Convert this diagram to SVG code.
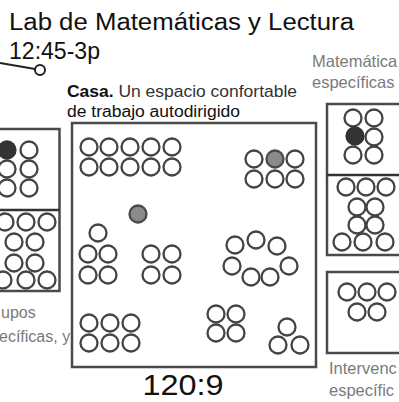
<svg xmlns="http://www.w3.org/2000/svg" width="399" height="402" viewBox="0 0 399 402">
<style>
.box{fill:none;stroke:#4a4a4a;stroke-width:2.5}
.c{fill:#fff;stroke:#444;stroke-width:2.3}
.g{fill:#8a8a8a;stroke:#4a4a4a;stroke-width:2.3}
.d{fill:#333;stroke:#333;stroke-width:2.3}
.t{font-family:"Liberation Sans",Arial,sans-serif;fill:#111}
.s{font-family:"Liberation Sans",Arial,sans-serif;fill:#7a7a7a}
</style>
<rect width="399" height="402" fill="#fff"/>
<g id="title">
<text class="t" x="9" y="30" font-size="23" textLength="345" lengthAdjust="spacingAndGlyphs">Lab de Matemáticas y Lectura</text>
<text class="t" x="9" y="59" font-size="24" textLength="91" lengthAdjust="spacingAndGlyphs">12:45-3p</text>
</g>
<g id="connectors">
<line x1="0" y1="63" x2="35" y2="69" stroke="#222" stroke-width="2"/>
<circle cx="40" cy="70" r="5" fill="#fff" stroke="#222" stroke-width="2"/>
</g>
<g id="casa">
<text class="t" x="67" y="97" font-size="16" textLength="230" lengthAdjust="spacingAndGlyphs"><tspan font-weight="bold">Casa.</tspan> <tspan fill="#333">Un espacio confortable</tspan></text>
<text class="t" x="67" y="117" font-size="16" fill="#333" textLength="173" lengthAdjust="spacingAndGlyphs">de trabajo autodirigido</text>
<rect class="box" x="72" y="123" width="244" height="244"/>
<circle class="c" cx="89" cy="147" r="8.5"/><circle class="c" cx="109" cy="147" r="8.5"/><circle class="c" cx="130" cy="147" r="8.5"/><circle class="c" cx="151" cy="147" r="8.5"/><circle class="c" cx="172" cy="147" r="8.5"/>
<circle class="c" cx="89" cy="167" r="8.5"/><circle class="c" cx="109" cy="167" r="8.5"/><circle class="c" cx="130" cy="167" r="8.5"/><circle class="c" cx="151" cy="167" r="8.5"/><circle class="c" cx="172" cy="167" r="8.5"/>
<circle class="c" cx="254" cy="159" r="8.5"/><circle class="g" cx="275" cy="159" r="8.5"/><circle class="c" cx="295" cy="159" r="8.5"/>
<circle class="c" cx="254" cy="179" r="8.5"/><circle class="c" cx="275" cy="179" r="8.5"/><circle class="c" cx="295" cy="179" r="8.5"/>
<circle class="g" cx="138" cy="214" r="8.5"/>
<circle class="c" cx="98" cy="233" r="8.5"/>
<circle class="c" cx="88" cy="254" r="8.5"/><circle class="c" cx="108" cy="254" r="8.5"/>
<circle class="c" cx="88" cy="275" r="8.5"/><circle class="c" cx="108" cy="275" r="8.5"/>
<circle class="c" cx="151" cy="254" r="8.5"/><circle class="c" cx="172" cy="254" r="8.5"/>
<circle class="c" cx="151" cy="275" r="8.5"/><circle class="c" cx="172" cy="275" r="8.5"/>
<circle class="c" cx="89" cy="323" r="8.5"/><circle class="c" cx="110" cy="323" r="8.5"/><circle class="c" cx="131" cy="323" r="8.5"/>
<circle class="c" cx="89" cy="343" r="8.5"/><circle class="c" cx="110" cy="343" r="8.5"/><circle class="c" cx="131" cy="343" r="8.5"/>
<circle class="c" cx="235" cy="245" r="8.5"/><circle class="c" cx="256" cy="240" r="8.5"/><circle class="c" cx="277" cy="246" r="8.5"/>
<circle class="c" cx="232" cy="266" r="8.5"/><circle class="c" cx="251" cy="277" r="8.5"/><circle class="c" cx="270" cy="277" r="8.5"/><circle class="c" cx="289" cy="266" r="8.5"/>
<circle class="c" cx="216" cy="314" r="8.5"/><circle class="c" cx="236" cy="314" r="8.5"/>
<circle class="c" cx="216" cy="333" r="8.5"/><circle class="c" cx="236" cy="333" r="8.5"/>
<circle class="c" cx="287" cy="327" r="8.5"/><circle class="c" cx="278" cy="345" r="8.5"/><circle class="c" cx="300" cy="345" r="8.5"/>
<text class="t" x="183" y="395" font-size="30" text-anchor="middle" textLength="81" lengthAdjust="spacingAndGlyphs">120:9</text>
</g>
<g id="left">
<rect class="box" x="-5" y="129" width="64.5" height="162"/>
<line x1="-5" y1="210" x2="59.5" y2="210" stroke="#333" stroke-width="2.5"/>
<circle class="d" cx="7" cy="150" r="8.5"/><circle class="c" cx="29" cy="150" r="8.5"/>
<circle class="c" cx="7" cy="169" r="8.5"/><circle class="c" cx="29" cy="169" r="8.5"/>
<circle class="c" cx="7" cy="188" r="8.5"/><circle class="c" cx="29" cy="188" r="8.5"/>
<circle class="c" cx="5" cy="222" r="8.5"/><circle class="c" cx="26" cy="222" r="8.5"/><circle class="c" cx="47" cy="222" r="8.5"/>
<circle class="c" cx="14" cy="242" r="8.5"/><circle class="c" cx="35" cy="242" r="8.5"/>
<circle class="c" cx="14" cy="263" r="8.5"/><circle class="c" cx="35" cy="263" r="8.5"/>
<circle class="c" cx="3" cy="280" r="8.5"/><circle class="c" cx="26" cy="280" r="8.5"/><circle class="c" cx="47" cy="280" r="8.5"/>
<text class="s" x="1" y="318" font-size="16">upos</text>
<text class="s" x="-1" y="342" font-size="16">ecíficas, y</text>
</g>
<g id="right">
<text class="s" x="312" y="67" font-size="16.5">Matemática</text>
<text class="s" x="312" y="88" font-size="16.5">específicas</text>
<rect class="box" x="327" y="104" width="80" height="151"/>
<line x1="327" y1="175" x2="407" y2="175" stroke="#333" stroke-width="2.5"/>
<circle class="c" cx="353" cy="118" r="8.5"/><circle class="c" cx="374" cy="118" r="8.5"/>
<circle class="d" cx="355" cy="136" r="8.5"/><circle class="c" cx="374" cy="137" r="8.5"/>
<circle class="c" cx="353" cy="155" r="8.5"/><circle class="c" cx="374" cy="155" r="8.5"/>
<circle class="c" cx="346" cy="187" r="8.5"/><circle class="c" cx="366" cy="187" r="8.5"/><circle class="c" cx="386" cy="187" r="8.5"/>
<circle class="c" cx="357" cy="207" r="8.5"/><circle class="c" cx="375" cy="207" r="8.5"/>
<circle class="c" cx="357" cy="225" r="8.5"/><circle class="c" cx="375" cy="225" r="8.5"/>
<circle class="c" cx="342" cy="242" r="8.5"/><circle class="c" cx="363" cy="242" r="8.5"/><circle class="c" cx="385" cy="242" r="8.5"/>
</g>
<g id="bottomright">
<rect class="box" x="327" y="272" width="80" height="81"/>
<circle class="c" cx="347" cy="292" r="8.5"/><circle class="c" cx="367" cy="292" r="8.5"/><circle class="c" cx="387" cy="292" r="8.5"/>
<circle class="c" cx="357" cy="312" r="8.5"/><circle class="c" cx="377" cy="312" r="8.5"/>
<text class="s" x="329" y="374" font-size="16.5">Intervenc</text>
<text class="s" x="329" y="396" font-size="16.5">específic</text>
</g>
</svg>
